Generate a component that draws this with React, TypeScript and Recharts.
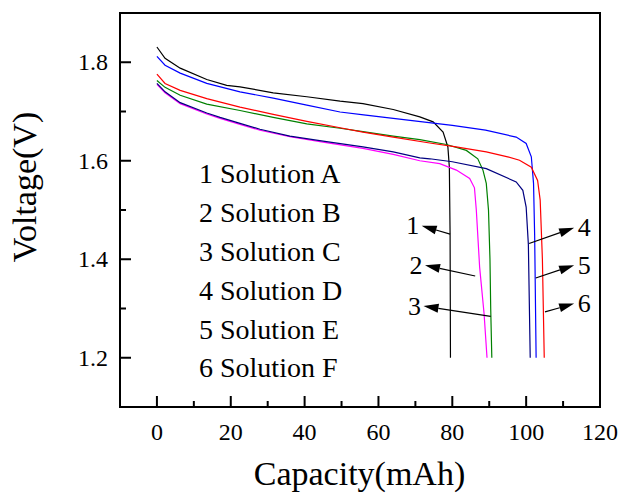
import React from 'react';
import { LineChart, Line, XAxis, YAxis, ReferenceLine, ReferenceArea } from 'recharts';

const FONT = "'Liberation Serif', Tinos, 'Noto Serif', 'DejaVu Serif', FreeSerif, 'Nimbus Roman', serif";

// Solution A (1, black)
const capA = [0, 2.2, 6.3, 13.5, 18.9, 22.5, 31.5, 40.6, 49.6, 55.8, 64, 71.2, 74.8, 77.5, 78.8, 79.2, 79.4, 79.5];
const voltA = [1.831, 1.808, 1.788, 1.765, 1.753, 1.750, 1.738, 1.730, 1.721, 1.716, 1.704, 1.689, 1.679, 1.658, 1.628, 1.587, 1.45, 1.2];
// Solution B (2, magenta)
const capB = [0, 2.2, 6.3, 13.5, 17.1, 22.5, 27.9, 36, 45, 55.8, 64, 71.2, 76.6, 81.1, 84.7, 86, 86.5, 87.4, 88.6, 89.4];
const voltB = [1.755, 1.738, 1.716, 1.695, 1.686, 1.674, 1.662, 1.649, 1.638, 1.625, 1.613, 1.600, 1.594, 1.581, 1.564, 1.545, 1.50, 1.384, 1.29, 1.2];
// Solution C (3, green)
const capC = [0, 2.2, 6.3, 13.5, 22.5, 31.5, 40.6, 49.6, 55.8, 64, 71.2, 78.4, 83.8, 86.9, 88.3, 89.2, 89.8, 90.2, 90.4, 90.7];
const voltC = [1.763, 1.749, 1.733, 1.715, 1.702, 1.688, 1.675, 1.666, 1.659, 1.650, 1.643, 1.633, 1.621, 1.604, 1.581, 1.554, 1.50, 1.40, 1.30, 1.2];
// Solution D (4, navy)
const capD = [0, 2.2, 6.3, 13.5, 17.1, 22.5, 27.9, 36, 45, 55.8, 64, 71.2, 73.9, 80, 89.2, 97.3, 99.1, 100, 100.6, 101.1];
const voltD = [1.757, 1.740, 1.718, 1.697, 1.688, 1.676, 1.664, 1.650, 1.640, 1.628, 1.618, 1.606, 1.604, 1.598, 1.584, 1.557, 1.54, 1.506, 1.43, 1.2];
// Solution E (5, blue)
const capE = [0, 2.2, 6.3, 13.5, 22.5, 31.5, 40.6, 49.6, 56, 64, 72, 80, 89, 97.3, 100, 101.4, 102, 102.3, 102.7];
const voltE = [1.812, 1.794, 1.778, 1.757, 1.740, 1.727, 1.713, 1.699, 1.693, 1.686, 1.679, 1.672, 1.662, 1.648, 1.635, 1.608, 1.554, 1.45, 1.2];
// Solution F (6, red)
const capF = [0, 2.2, 6.3, 13.5, 22.5, 31.5, 40.6, 49.6, 55.8, 64, 73.9, 81, 89.2, 95, 98.2, 101.4, 103.1, 103.8, 104.4, 104.9];
const voltF = [1.776, 1.757, 1.743, 1.726, 1.709, 1.694, 1.680, 1.667, 1.658, 1.648, 1.636, 1.628, 1.618, 1.608, 1.601, 1.587, 1.560, 1.520, 1.40, 1.2];

const seriesLabels = ['1 Solution A', '2 Solution B', '3 Solution C', '4 Solution D', '5 Solution E', '6 Solution F'];
const seriesColors = ['#000000', '#ff00ff', '#008000', '#000080', '#0000ff', '#ff0000'];
const seriesCaps = [capA, capB, capC, capD, capE, capF];
const seriesVolts = [voltA, voltB, voltC, voltD, voltE, voltF];

const xTicks = [0, 10, 20, 30, 40, 50, 60, 70, 80, 90, 100, 110, 120];
const yTicks = [1.2, 1.3, 1.4, 1.5, 1.6, 1.7, 1.8];

// callouts: number, tail (on curve), tip (arrow head)
const calloutNums = ['1', '2', '3', '4', '5', '6'];
const calloutTail = [[79.4, 1.451], [86.2, 1.366], [90.4, 1.284], [100.8, 1.432], [102.6, 1.362], [105.1, 1.293]];
const calloutTip = [[71.7, 1.468], [72.6, 1.388], [72.2, 1.305], [113.0, 1.464], [113.0, 1.388], [113.0, 1.310]];

const series = seriesCaps.map((caps, i) => caps.map((c, j) => ({ c, v: seriesVolts[i][j] })));

const txtStyle = { fontFamily: FONT };

const XTick = (props: any) => {
  const { x, y, payload } = props;
  const v = payload.value;
  const major = Math.round(v) % 20 === 0;
  return (
    <g>
      <line x1={x} x2={x} y1={y} y2={y - (major ? 11 : 6)} stroke="#000" strokeWidth={2} />
      {major && (
        <text x={x} y={y + 33} textAnchor="middle" fontSize={24} style={txtStyle} fill="#000">
          {v}
        </text>
      )}
    </g>
  );
};

const YTick = (props: any) => {
  const { x, y, payload } = props;
  const v = payload.value;
  const major = Math.round(v * 10) % 2 === 0;
  return (
    <g>
      <line x1={x} x2={x + (major ? 11 : 6)} y1={y} y2={y} stroke="#000" strokeWidth={2} />
      {major && (
        <text x={x - 12} y={y + 8} textAnchor="end" fontSize={24} style={txtStyle} fill="#000">
          {v.toFixed(1)}
        </text>
      )}
    </g>
  );
};

const makeCallout = (label: string) => (p: any) => {
  const { x1, y1, x2, y2 } = p;
  const dx = x2 - x1;
  const dy = y2 - y1;
  const len = Math.sqrt(dx * dx + dy * dy) || 1;
  const ux = dx / len;
  const uy = dy / len;
  const hl = 15;
  const hw = 4.5;
  const bx = x2 - ux * hl;
  const by = y2 - uy * hl;
  const left = x2 < x1;
  return (
    <g>
      <line x1={x1} y1={y1} x2={bx} y2={by} stroke="#000" strokeWidth={1.2} />
      <polygon
        points={`${x2},${y2} ${bx - uy * hw},${by + ux * hw} ${bx + uy * hw},${by - ux * hw}`}
        fill="#000"
      />
      <text
        x={left ? x2 - 9 : x2 + 10}
        y={y2 + 8.5}
        textAnchor="middle"
        fontSize={26}
        style={txtStyle}
        fill="#000"
      >
        {label}
      </text>
    </g>
  );
};

export default function App() {
  return (
    <div style={{ position: 'absolute', left: 0, top: 0, width: 620, height: 497, background: '#fff', fontFamily: FONT }}>
      <LineChart width={620} height={497} margin={{ top: 13, right: 20, bottom: 0, left: 0 }}>
        <XAxis
          type="number"
          dataKey="c"
          domain={[-10, 120]}
          ticks={xTicks}
          interval={0}
          allowDataOverflow
          axisLine={false}
          tickLine={false}
          tickSize={0}
          tickMargin={0}
          tick={<XTick />}
          height={90}
        />
        <YAxis
          type="number"
          domain={[1.1, 1.9]}
          ticks={yTicks}
          interval={0}
          allowDataOverflow
          axisLine={false}
          tickLine={false}
          tickSize={0}
          tickMargin={0}
          tick={<YTick />}
          width={120}
        />
        <ReferenceArea x1={-10} x2={120} y1={1.1} y2={1.9} fill="none" stroke="#000" strokeWidth={2} fillOpacity={0} />
        {series.map((d, i) => (
          <Line
            key={i}
            data={d}
            dataKey="v"
            type="linear"
            dot={false}
            activeDot={false}
            stroke={seriesColors[i]}
            strokeWidth={1.2}
            isAnimationActive={false}
          />
        ))}
        {calloutNums.map((n, i) => (
          <ReferenceLine
            key={'c' + i}
            segment={[
              { x: calloutTail[i][0], y: calloutTail[i][1] },
              { x: calloutTip[i][0], y: calloutTip[i][1] },
            ]}
            ifOverflow="visible"
            shape={makeCallout(n)}
          />
        ))}
      </LineChart>
      <svg width={620} height={497} style={{ position: 'absolute', left: 0, top: 0, pointerEvents: 'none' }}>
        <text x={359.5} y={485} textAnchor="middle" fontSize={34} style={txtStyle} fill="#000">
          Capacity(mAh)
        </text>
        <text x={36} y={187} textAnchor="middle" fontSize={34} style={txtStyle} fill="#000" transform="rotate(-90 36 187)">
          Voltage(V)
        </text>
        {seriesLabels.map((s, i) => (
          <text key={s} x={199} y={183.3 + i * 38.8} fontSize={28} style={txtStyle} fill="#000">
            {s}
          </text>
        ))}
      </svg>
    </div>
  );
}
